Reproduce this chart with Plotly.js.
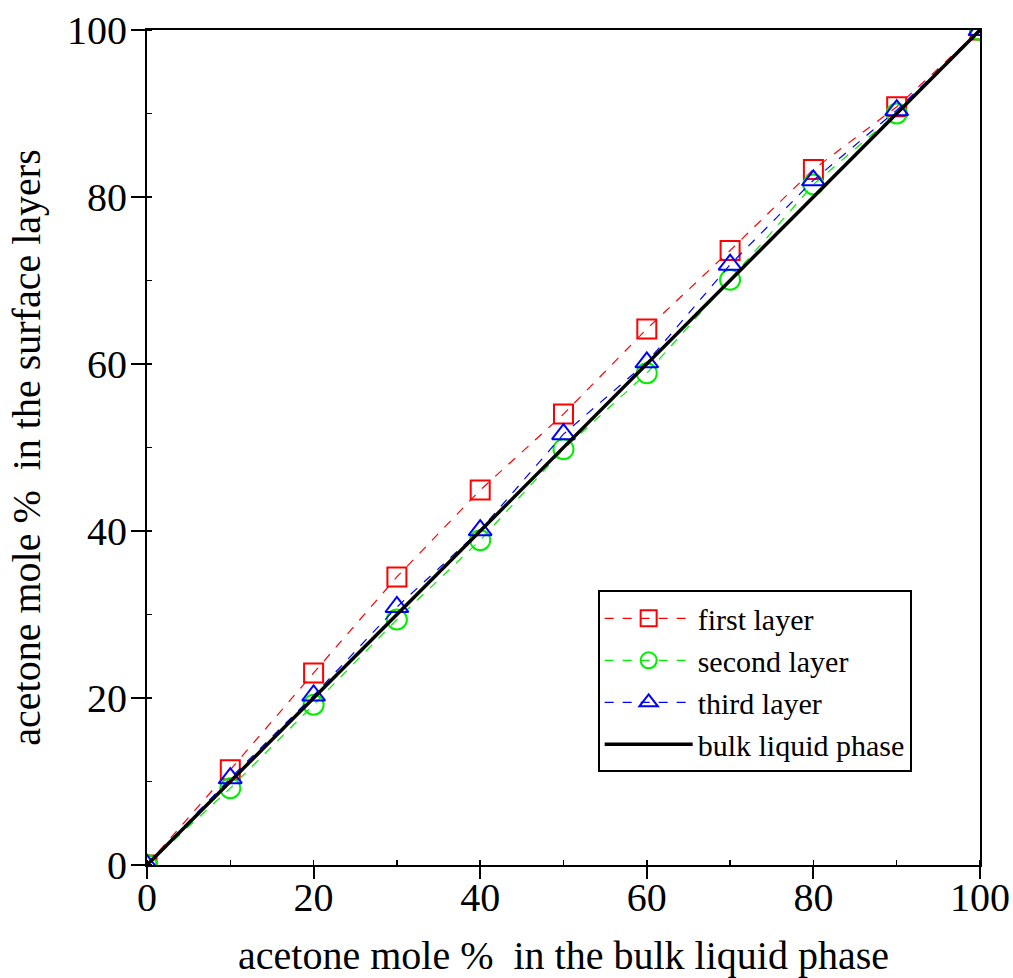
<!DOCTYPE html>
<html>
<head>
<meta charset="utf-8">
<script src="https://cdn.plot.ly/plotly-3.0.1.min.js"></script>
<style>html,body{margin:0;padding:0;background:#fff;}#chart{width:1013px;height:978px;}</style>
</head>
<body>
<div id="chart"></div>
<script>
// bulk liquid phase composition (x) for all layers
const bulkX = [0, 10, 20, 30, 40, 50, 60, 70, 80, 90, 100];
const firstLayer  = [0, 11.4, 23.0, 34.5, 44.9, 54.0, 64.2, 73.6, 83.3, 90.8, 100];
const secondLayer = [0, 9.2, 19.2, 29.4, 38.9, 49.8, 58.9, 70.1, 81.5, 90.0, 100];
const thirdLayer  = [0, 10.4, 20.3, 30.9, 40.1, 51.6, 60.2, 71.9, 82.0, 90.4, 100];
const bulkLineX = [0, 100];
const bulkLineY = [0, 100];
const seriesNames = ["first layer", "second layer", "third layer", "bulk liquid phase"];
const tickVals = [0, 20, 40, 60, 80, 100];

const FONT = "Liberation Serif, Times New Roman, serif";

const traces = [
  {x: bulkX, y: firstLayer, name: seriesNames[0], type: 'scatter', mode: 'lines+markers',
   line: {color: '#ff0000', width: 1.2, dash: 'dash'},
   marker: {symbol: 'square-open', size: 19, color: '#ff0000', line: {color: '#ff0000', width: 2}}},
  {x: bulkX, y: secondLayer, name: seriesNames[1], type: 'scatter', mode: 'lines+markers',
   line: {color: '#00ee00', width: 1.2, dash: 'dash'},
   marker: {symbol: 'circle-open', size: 20, color: '#00ee00', line: {color: '#00ee00', width: 2}}},
  {x: bulkX, y: thirdLayer, name: seriesNames[2], type: 'scatter', mode: 'lines+markers',
   line: {color: '#0000ff', width: 1.2, dash: 'dash'},
   marker: {symbol: 'triangle-up-open', size: 20, color: '#0000ff', line: {color: '#0000ff', width: 2}}},
  {x: bulkLineX, y: bulkLineY, name: seriesNames[3], type: 'scatter', mode: 'lines',
   line: {color: '#000000', width: 3.5}}
];

const layout = {
  width: 1013, height: 978,
  margin: {l: 147, r: 33, t: 30, b: 113},
  paper_bgcolor: '#ffffff', plot_bgcolor: '#ffffff',
  font: {family: FONT, color: '#000000'},
  showlegend: true,
  legend: {
    x: 0.541, y: 0.329, xanchor: 'left', yanchor: 'top',
    bgcolor: '#ffffff', bordercolor: '#000000', borderwidth: 2,
    font: {family: FONT, size: 30, color: '#000'},
    itemwidth: 88, tracegroupgap: 0
  },
  xaxis: {
    range: [0, 100], tickvals: tickVals, ticktext: tickVals.map(String),
    ticks: 'outside', ticklen: 12, tickwidth: 2, tickcolor: '#000',
    ticklabelstandoff: -16,
    showline: true, linecolor: '#000', linewidth: 2, mirror: true,
    showgrid: false, zeroline: false,
    tickfont: {family: FONT, size: 40, color: '#000'},
    minor: {ticks: 'inside', dtick: 10, tick0: 0, ticklen: 5, tickwidth: 1.5, tickcolor: '#000', showgrid: false},
    title: {text: 'acetone mole %\u00a0 in the bulk liquid phase', font: {family: FONT, size: 40, color: '#000'}, standoff: 22}
  },
  yaxis: {
    range: [0, 100], tickvals: tickVals, ticktext: tickVals.map(String),
    ticks: 'outside', ticklen: 14, tickwidth: 2, tickcolor: '#000',
    ticklabelstandoff: -4,
    showline: true, linecolor: '#000', linewidth: 2, mirror: true,
    showgrid: false, zeroline: false,
    tickfont: {family: FONT, size: 40, color: '#000'},
    minor: {ticks: 'inside', dtick: 10, tick0: 0, ticklen: 5, tickwidth: 1.5, tickcolor: '#000', showgrid: false},
    title: {text: 'acetone mole %\u00a0 in the surface layers', font: {family: FONT, size: 40, color: '#000'}, standoff: 14}
  }
};

Plotly.newPlot('chart', traces, layout, {displayModeBar: false, staticPlot: true});
</script>
</body>
</html>
